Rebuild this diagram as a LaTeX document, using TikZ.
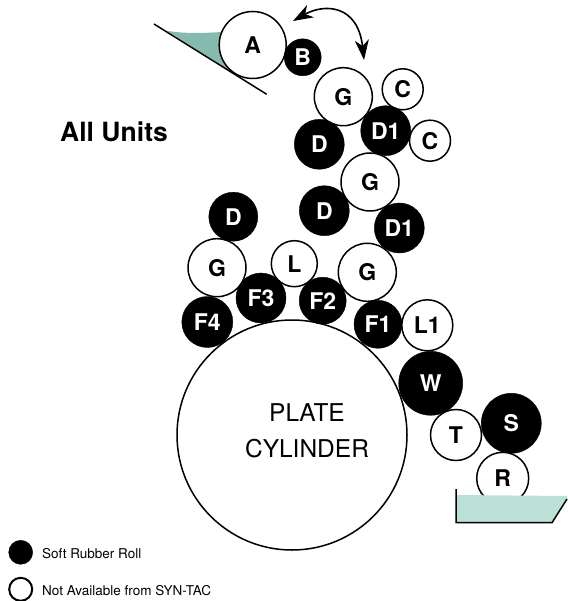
\documentclass[tikz,border=0pt]{standalone}
\usepackage{fontspec}
\setmainfont{TeX Gyre Heros}
\usetikzlibrary{arrows.meta}
\definecolor{bladeteal}{HTML}{85BBAE}
\definecolor{traygreen}{HTML}{BBE0D8}
\tikzset{
  softroll/.style={circle,draw=black,fill=black,text=white,inner sep=0pt,font=\fontsize{23}{23}\selectfont\bfseries},
  openroll/.style={circle,draw=black,fill=white,line width=1.5pt,inner sep=0pt,font=\fontsize{23}{23}\selectfont\bfseries},
  legendtext/.style={anchor=west,inner sep=0pt,font=\fontsize{13.5}{14}\selectfont},
  swingtip/.tip={Stealth[length=20pt,width=14pt,inset=6pt]}
}
\begin{document}
\begin{tikzpicture}[x=1pt,y=-1pt]
\useasboundingbox (0,0) rectangle (567,601);

\coordinate (bladetop) at (154,24);
\coordinate (bladeend) at (266.7,94.3);
\coordinate (swingleft) at (293,21);
\coordinate (swingright) at (364,60);

\fill[bladeteal] (166.7,30.7) .. controls (185,34) and (205,33) .. (222,32) -- (232,72) -- cycle;
\draw[line width=1.5pt] (bladetop) -- (bladeend);

\node[openroll,minimum size=230pt] (plate) at (292,435) {};
\node[align=center,font=\fontsize{24.5}{36.5}\selectfont] (platetext) at (307,431) {PLATE\\CYLINDER};

\node[openroll,minimum size=67pt] (A) at (252.7,45) {A};
\node[softroll,minimum size=37pt] (B) at (302.7,57.3) {B};
\node[openroll,minimum size=58pt] (G1) at (343.3,96.7) {G};
\node[openroll,minimum size=41pt] (C1) at (402.7,89.3) {C};
\node[openroll,minimum size=41pt] (C2) at (430,140.7) {C};
\node[softroll,minimum size=50pt] (D1) at (385.7,130.7) {D1};
\node[softroll,minimum size=50pt] (D2) at (319.3,144.3) {D};
\node[openroll,minimum size=58pt] (G2) at (370,182) {G};
\node[softroll,minimum size=50pt] (D3) at (324.3,210.7) {D};
\node[softroll,minimum size=50pt] (D4) at (399.3,228) {D1};
\node[softroll,minimum size=49pt] (D5) at (233.3,216.7) {D};
\node[openroll,minimum size=58pt] (G3) at (217,267.7) {G};
\node[openroll,minimum size=46pt] (L) at (294.3,263.7) {L};
\node[openroll,minimum size=58pt] (G4) at (367.3,272.3) {G};
\node[softroll,minimum size=50pt] (F3) at (261,298) {F3};
\node[softroll,minimum size=47pt] (F2) at (322.7,300.7) {F2};
\node[softroll,minimum size=51pt] (F4) at (207.3,322) {F4};
\node[softroll,minimum size=48pt] (F1) at (378,324.3) {F1};
\node[openroll,minimum size=51pt] (L1) at (427.3,325.3) {L1};
\node[softroll,minimum size=64pt] (W) at (430.7,383.3) {W};
\node[openroll,minimum size=51pt] (T) at (456,435) {T};
\node[softroll,minimum size=60pt] (S) at (511.3,423.3) {S};
\node[openroll,minimum size=52pt] (R) at (502.7,478.3) {R};

\fill[traygreen] (456,495) -- (567,496) -- (567,499) -- (552,522.7) -- (456,522.7) -- cycle;
\draw[line width=1.5pt] (456,489) -- (456,522.7) -- (552,522.7) -- (567,499);

\draw[line width=1.6pt,swingtip-swingtip] (swingleft) .. controls (325,3) and (358,5) .. (swingright);

\node[inner sep=0pt,font=\fontsize{26.5}{26}\selectfont\bfseries] (units) at (114,132) {All Units};

\node[softroll,minimum size=24pt] (softkey) at (20.7,552.3) {};
\node[openroll,minimum size=23pt,line width=2pt] (openkey) at (20.7,589.3) {};
\node[legendtext] (softlabel) at (42,554) {Soft Rubber Roll};
\node[legendtext] (openlabel) at (42,591) {Not Available from SYN-TAC};

\end{tikzpicture}
\end{document}
